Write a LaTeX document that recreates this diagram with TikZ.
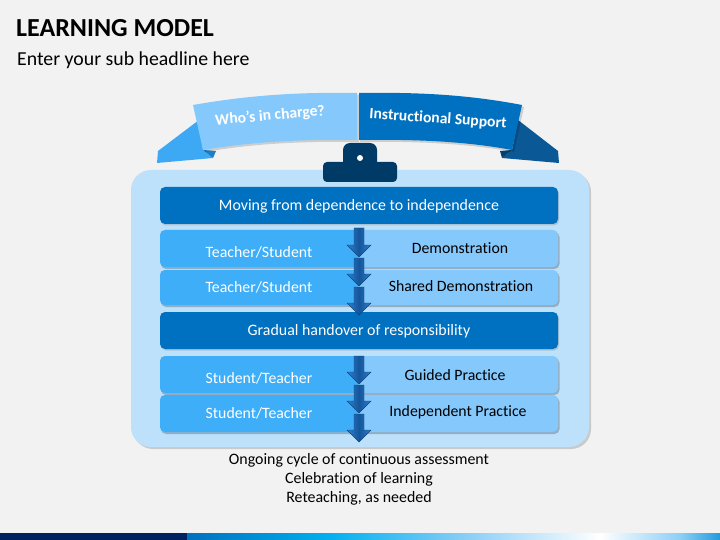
\documentclass[tikz,border=0pt]{standalone}
\usepackage{fontspec}
\setmainfont{Carlito}[Ligatures=NoCommon]
\usetikzlibrary{shadows}
\definecolor{bgc}{HTML}{F2F2F2}
\definecolor{contc}{HTML}{BDE0FB}
\definecolor{darkbar}{HTML}{0070C0}
\definecolor{leftc}{HTML}{3FAEF9}
\definecolor{rightc}{HTML}{85C8FC}
\definecolor{clipc}{HTML}{003A66}
\definecolor{tailL}{HTML}{3DA9F4}
\definecolor{foldL}{HTML}{1C7FC9}
\definecolor{tailR}{HTML}{0B5896}
\definecolor{foldR}{HTML}{053F6E}
\definecolor{arrE}{HTML}{2E80CF}
\definecolor{arrM}{HTML}{15559A}
\definecolor{navyc}{HTML}{002060}
\definecolor{cyanc}{HTML}{00B0F0}
\definecolor{paleb}{HTML}{8ECFF6}
\definecolor{endb}{HTML}{1F9BDE}
\tikzset{
  barbox/.style={fill=darkbar, rounded corners=5, drop shadow={shadow xshift=1pt, shadow yshift=-1.5pt, opacity=0.3}},
  rowshadow/.style={fill=black, opacity=0.22},
  bartext/.style={text=white, font=\fontsize{15.9}{19}\selectfont, inner sep=0pt},
  ltext/.style={text=white, font=\fontsize{15.8}{19}\selectfont, inner sep=0pt},
  rtext/.style={text=black, font=\fontsize{15.8}{19}\selectfont, inner sep=0pt},
  ribtext/.style={text=white, font=\fontsize{15.6}{19}\bfseries\selectfont, inner sep=0pt},
  foottext/.style={text=black, font=\fontsize{15.9}{19}\selectfont, inner sep=0pt},
  arrowsh/.style={left color=arrE, right color=arrE, middle color=arrM, draw=arrM!80!black, line width=0.4pt}
}
\newcommand\rowpair[2]{%
  \fill[rowshadow, rounded corners=5] (161,#1+2) rectangle (559.5,#2+2);
  \fill[rightc, rounded corners=5] (160,#1) rectangle (558,#2);
  \begin{scope}
    \clip (150,#1-5) rectangle (358,#2+5);
    \fill[leftc, rounded corners=5] (160,#1) rectangle (558,#2);
  \end{scope}}
\newcommand\dnarrow[3]{%
  \shade[arrowsh] (#1-5,#2) -- (#1+5,#2) -- (#1+5,#3-12) -- (#1+12,#3-12) -- (#1,#3) -- (#1-12,#3-12) -- (#1-5,#3-12) -- cycle;}
\begin{document}
\begin{tikzpicture}[x=1pt,y=-1pt]
\useasboundingbox (0,0) rectangle (720,540);
\fill[bgc] (0,0) rectangle (720,540);

% titles
\node[anchor=base west, inner sep=0pt, font=\fontsize{26}{30}\bfseries\selectfont] (title) at (16,37) {LEARNING MODEL};
\node[anchor=base west, inner sep=0pt, font=\fontsize{19.8}{24}\selectfont] (subtitle) at (17,66) {Enter your sub headline here};

% ribbon left
\fill[tailL] (199,120) -- (158,151) -- (157,163) -- (213,158) -- (203,150) -- cycle;
\fill[foldL] (203,150) -- (216,151) -- (213,158) -- cycle;
\fill[black, opacity=0.15] (195,107) .. controls (250,97) and (300,94) .. (359,95) -- (359,142) .. controls (300,141) and (250,144) .. (205,152) -- cycle;
\fill[rightc] (193,105) .. controls (250,95) and (300,92) .. (357,93) -- (357,140) .. controls (300,139) and (250,142) .. (203,150) -- cycle;
\node[ribtext, rotate=5] (who) at (270,116) {Who’s in charge?};

% ribbon right
\fill[tailR] (518,120) -- (558,151) -- (559,163) -- (502,158) -- (512,150) -- cycle;
\fill[foldR] (512,150) -- (500,151) -- (502,158) -- cycle;
\fill[black, opacity=0.15] (360,95) .. controls (420,94) and (470,97) .. (524,107) -- (514,152) .. controls (470,144) and (420,141) .. (360,142) -- cycle;
\fill[darkbar] (359,93) .. controls (420,92) and (470,95) .. (522,105) -- (512,150) .. controls (470,142) and (420,139) .. (359,140) -- cycle;
\node[ribtext, rotate=-4] (instr) at (438,119) {Instructional Support};

% container
\fill[contc, rounded corners=20, drop shadow={shadow xshift=2pt, shadow yshift=-2pt, opacity=0.35}] (131,170) rectangle (589,447);

% clip
\fill[clipc, rounded corners=4] (323,162) rectangle (397,182);
\fill[clipc, rounded corners=7] (343,143) rectangle (377,170);
\fill[white] (360,158) circle (3);

% bars
\fill[barbox] (160,187) rectangle (558,224);
\node[bartext] (bar1) at (359,206) {Moving from dependence to independence};
\fill[barbox] (160,312) rectangle (558,349);
\node[bartext] (bar2) at (359,331) {Gradual handover of responsibility};

% rows
\rowpair{230}{267}
\rowpair{270}{305}
\rowpair{356}{393}
\rowpair{395}{432}

\node[ltext] (l1) at (259,252) {Teacher/Student};
\node[rtext] (r1) at (460,248) {Demonstration};
\node[ltext] (l2) at (259,287) {Teacher/Student};
\node[rtext] (r2) at (461,286) {Shared Demonstration};
\node[ltext] (l3) at (259,378) {Student/Teacher};
\node[rtext] (r3) at (455,375) {Guided Practice};
\node[ltext] (l4) at (259,413) {Student/Teacher};
\node[rtext] (r4) at (458,412) {Independent Practice};

% arrows
\dnarrow{359}{228}{257}
\dnarrow{359}{258}{286}
\dnarrow{359}{287}{315}
\dnarrow{359}{356}{384}
\dnarrow{359}{385}{413}
\dnarrow{359}{414}{442}

% footer text
\node[foottext] (f1) at (359,460) {Ongoing cycle of continuous assessment};
\node[foottext] (f2) at (359,479) {Celebration of learning};
\node[foottext] (f3) at (359,498) {Reteaching, as needed};

% bottom bar
\fill[navyc] (0,533) rectangle (187,540);
\shade[left color=darkbar, right color=cyanc] (187,533) rectangle (330,540);
\shade[left color=cyanc, right color=paleb] (330,533) rectangle (470,540);
\shade[left color=paleb, right color=white] (470,533) rectangle (600,540);
\shade[left color=white, right color=paleb] (600,533) rectangle (680,540);
\shade[left color=paleb, right color=endb] (680,533) rectangle (720,540);
\end{tikzpicture}
\end{document}
